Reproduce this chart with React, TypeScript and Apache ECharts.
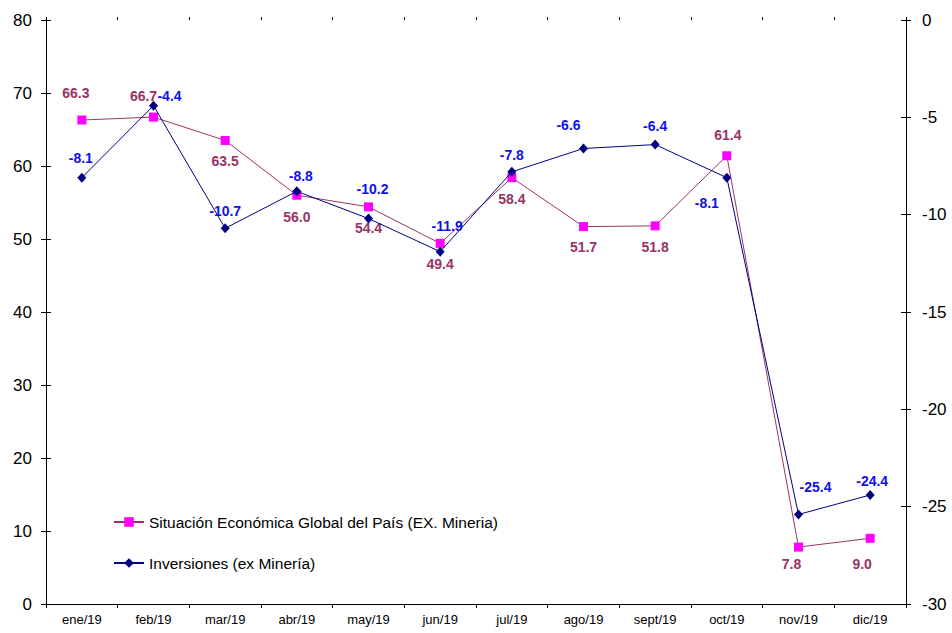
import React, { useEffect, useRef } from "react";
import * as echarts from "echarts";

const categories = ["ene/19", "feb/19", "mar/19", "abr/19", "may/19", "jun/19", "jul/19", "ago/19", "sept/19", "oct/19", "nov/19", "dic/19"];
const situacionValues = [66.3, 66.7, 63.5, 56.0, 54.4, 49.4, 58.4, 51.7, 51.8, 61.4, 7.8, 9.0];
const inversionesValues = [-8.1, -4.4, -10.7, -8.8, -10.2, -11.9, -7.8, -6.6, -6.4, -8.1, -25.4, -24.4];
const leftTicks = { min: 0, max: 80, interval: 10 };
const rightTicks = { min: -30, max: 0, interval: 5 };
const seriesNames = ["Situación Económica Global del País (EX. Mineria)", "Inversiones (ex Minería)"];

// label offsets (layout only), relative to the marker centre
const situacionOffsets: [number, number][] = [
  [-6, -27], [-10, -21], [0, 21], [0, 22], [0, 21], [0, 21], [0, 21], [0, 20], [0, 21], [1, -21], [-7, 17], [-8, 26],
];
const inversionesOffsets: [number, number][] = [
  [-1, -20], [16, -10], [0, -17], [4, -15], [4, -30], [7, -26], [0, -17], [-15, -23], [0, -19], [-20, 25], [17, -27], [2, -14],
];

export default function App() {
  const ref = useRef<HTMLDivElement>(null);
  useEffect(() => {
    if (!ref.current) return;
    const chart = echarts.init(ref.current, undefined, { renderer: "svg" });
    const font = "Liberation Sans, Arial, sans-serif";
    const labelOf = (color: string) => ({
      show: true,
      position: "inside" as const,
      color,
      fontFamily: font,
      fontSize: 14,
      fontWeight: "bold" as const,
      formatter: (p: any) => Number(p.value).toFixed(1),
    });
    chart.setOption({
      animation: false,
      backgroundColor: "#ffffff",
      grid: { left: 46, right: 46, top: 20, bottom: 29, containLabel: false },
      legend: {
        orient: "vertical",
        left: 113,
        top: 514,
        padding: 0,
        itemGap: 25,
        itemWidth: 30,
        itemHeight: 12,
        textStyle: { fontFamily: font, fontSize: 15.5, color: "#000" },
        data: seriesNames,
      },
      xAxis: [
        {
          type: "category",
          data: categories,
          boundaryGap: true,
          axisLine: { show: true, lineStyle: { color: "#000", width: 1 } },
          axisTick: { show: true, inside: false, length: 4, lineStyle: { color: "#000" } },
          axisLabel: { color: "#000", fontFamily: font, fontSize: 13, margin: 9 },
        },
        {
          type: "category",
          data: categories,
          position: "bottom",
          boundaryGap: true,
          axisLine: { show: false },
          axisTick: { show: true, inside: true, length: 3, lineStyle: { color: "#000" } },
          axisLabel: { show: false },
        },
      ],
      yAxis: [
        {
          type: "value",
          position: "left",
          ...leftTicks,
          splitLine: { show: false },
          axisLine: { show: true, lineStyle: { color: "#000", width: 1 } },
          axisTick: { show: true, inside: false, length: 5, lineStyle: { color: "#000" } },
          axisLabel: { color: "#000", fontFamily: font, fontSize: 17, margin: 14 },
        },
        {
          type: "value",
          position: "right",
          ...rightTicks,
          splitLine: { show: false },
          axisLine: { show: true, lineStyle: { color: "#000", width: 1 } },
          axisTick: { show: true, inside: false, length: 5, lineStyle: { color: "#000" } },
          axisLabel: { color: "#000", fontFamily: font, fontSize: 17, margin: 16 },
        },
        {
          type: "value",
          position: "left",
          ...leftTicks,
          splitLine: { show: false },
          axisLine: { show: false },
          axisTick: { show: true, inside: true, length: 5, lineStyle: { color: "#000" } },
          axisLabel: { show: false },
        },
        {
          type: "value",
          position: "right",
          ...rightTicks,
          splitLine: { show: false },
          axisLine: { show: false },
          axisTick: { show: true, inside: true, length: 5, lineStyle: { color: "#000" } },
          axisLabel: { show: false },
        },
      ],
      series: [
        {
          name: seriesNames[0],
          type: "line",
          yAxisIndex: 0,
          symbol: "rect",
          symbolSize: 9,
          itemStyle: { color: "#FF00FF" },
          lineStyle: { color: "#993366", width: 1 },
          label: labelOf("#993366"),
          data: situacionValues.map((v, i) => ({ value: v, label: { offset: situacionOffsets[i] } })),
          z: 3,
        },
        {
          name: seriesNames[1],
          type: "line",
          yAxisIndex: 1,
          symbol: "diamond",
          symbolSize: [9, 10],
          itemStyle: { color: "#000080" },
          lineStyle: { color: "#000080", width: 1 },
          label: labelOf("#1010E8"),
          data: inversionesValues.map((v, i) => ({ value: v, label: { offset: inversionesOffsets[i] } })),
          z: 4,
        },
      ],
    });
    return () => chart.dispose();
  }, []);
  return <div ref={ref} style={{ position: "absolute", left: 0, top: 0, width: 952, height: 633 }} />;
}
